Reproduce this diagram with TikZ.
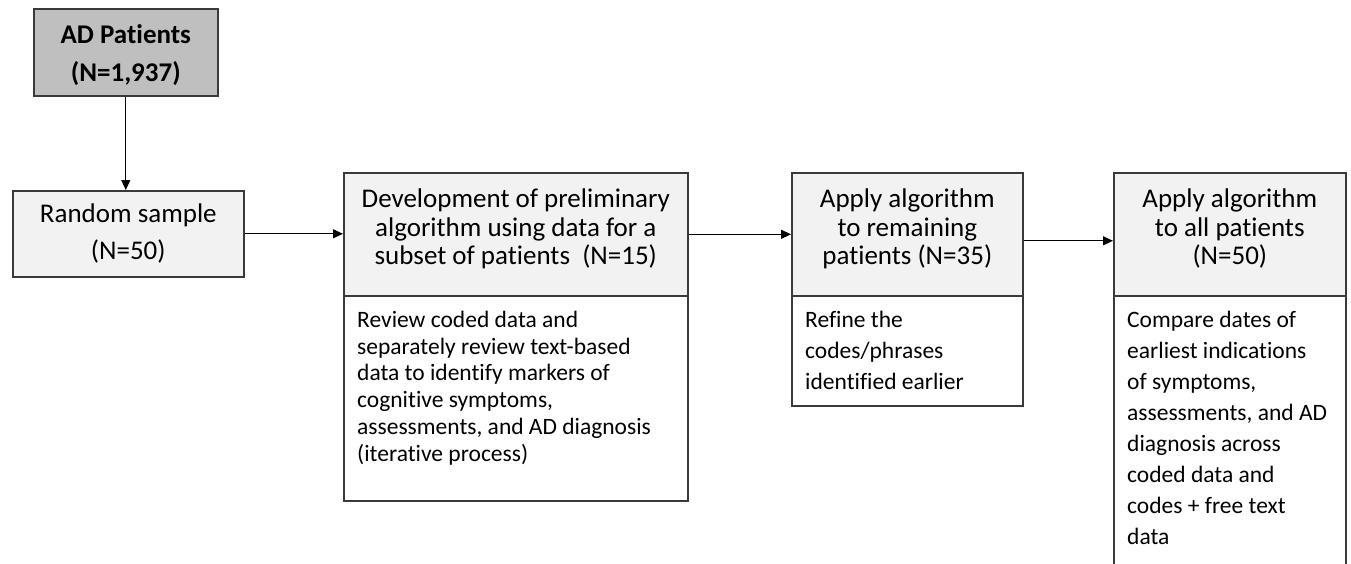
\documentclass[tikz,border=0pt]{standalone}
\usepackage{fontspec}
\setmainfont[Ligatures=NoCommon]{Carlito}
\usetikzlibrary{arrows.meta}
\definecolor{boxline}{HTML}{3A3A3A}
\definecolor{adfill}{HTML}{BFBFBF}
\definecolor{lightfill}{HTML}{F2F2F2}
\begin{document}
\begin{tikzpicture}[x=1pt,y=-1pt,
  box/.style={draw=boxline, line width=1.6pt, inner sep=0pt, anchor=north west},
  head/.style={box, fill=lightfill, minimum height=123pt},
  headtext/.style={inner sep=0pt, align=center, font=\fontsize{27}{28.5}\selectfont},
  bodybox/.style={box, fill=white},
  bodytext/.style={inner sep=0pt, anchor=north west, align=left, font=\fontsize{23.5}{31}\selectfont},
  arr/.style={-{Triangle[length=10pt,width=9pt]}, line width=1.2pt, draw=black}]
\useasboundingbox (0,0) rectangle (1351,563);
\clip (0,0) rectangle (1351,563);
\fill[white] (0,0) rectangle (1351,563);

% AD patients
\node[box, fill=adfill, minimum width=184pt, minimum height=87pt] (ad) at (33,8) {};
\node[inner sep=0pt, align=center, font=\bfseries\fontsize{27}{38}\selectfont] (adt)
  at ([yshift=-2.5pt]ad.center) {AD Patients\\(N=1,937)};
% Random sample
\node[box, fill=lightfill, minimum width=231pt, minimum height=86pt, align=center,
      font=\fontsize{27}{37}\selectfont] (rs) at (12,190) {Random sample\\(N=50)};

% Development box
\node[head, minimum width=344pt] (dh) at (343,172) {};
\node[headtext] (dht) at ([yshift=5.5pt]dh.center) {Development of preliminary\\algorithm using data for a\\subset of patients\ \ (N=15)};
\node[bodybox, minimum width=344pt, minimum height=205pt] (db) at (343,295) {};
\node[bodytext, font=\fontsize{23.5}{26.7}\selectfont] (dt) at ([xshift=14pt,yshift=-16pt]db.north west)
  {Review coded data and\\separately review text-based\\data to identify markers of\\cognitive symptoms,\\assessments, and AD diagnosis\\(iterative process)};

% Apply to remaining
\node[head, minimum width=231pt] (ah) at (791,172) {};
\node[headtext] (aht) at ([yshift=5.5pt]ah.center) {Apply algorithm\\to remaining\\patients (N=35)};
\node[bodybox, minimum width=231pt, minimum height=110pt] (ab) at (791,295) {};
\node[bodytext] (at) at ([xshift=14pt,yshift=-16pt]ab.north west)
  {Refine the\\codes/phrases\\identified earlier};

% Apply to all
\node[head, minimum width=232pt] (ph) at (1113,172) {};
\node[headtext] (pht) at ([yshift=5.5pt]ph.center) {Apply algorithm\\to all patients\\(N=50)};
\node[bodybox, minimum width=232pt, minimum height=290pt] (pb) at (1113,295) {};
\node[bodytext] (pt) at ([xshift=14pt,yshift=-16pt]pb.north west)
  {Compare dates of\\earliest indications\\of symptoms,\\assessments, and AD\\diagnosis across\\coded data and\\codes + free text\\data};

% connectors
\draw[arr] (ad.south) -- (ad.south |- rs.north);
\draw[arr] (rs.east) -- (rs.east -| dh.west);
\draw[arr] (dh.east) -- (dh.east -| ah.west);
\draw[arr] ([yshift=-6.5pt]ah.east) -- ([yshift=-6.5pt]ah.east -| ph.west);
\end{tikzpicture}
\end{document}
